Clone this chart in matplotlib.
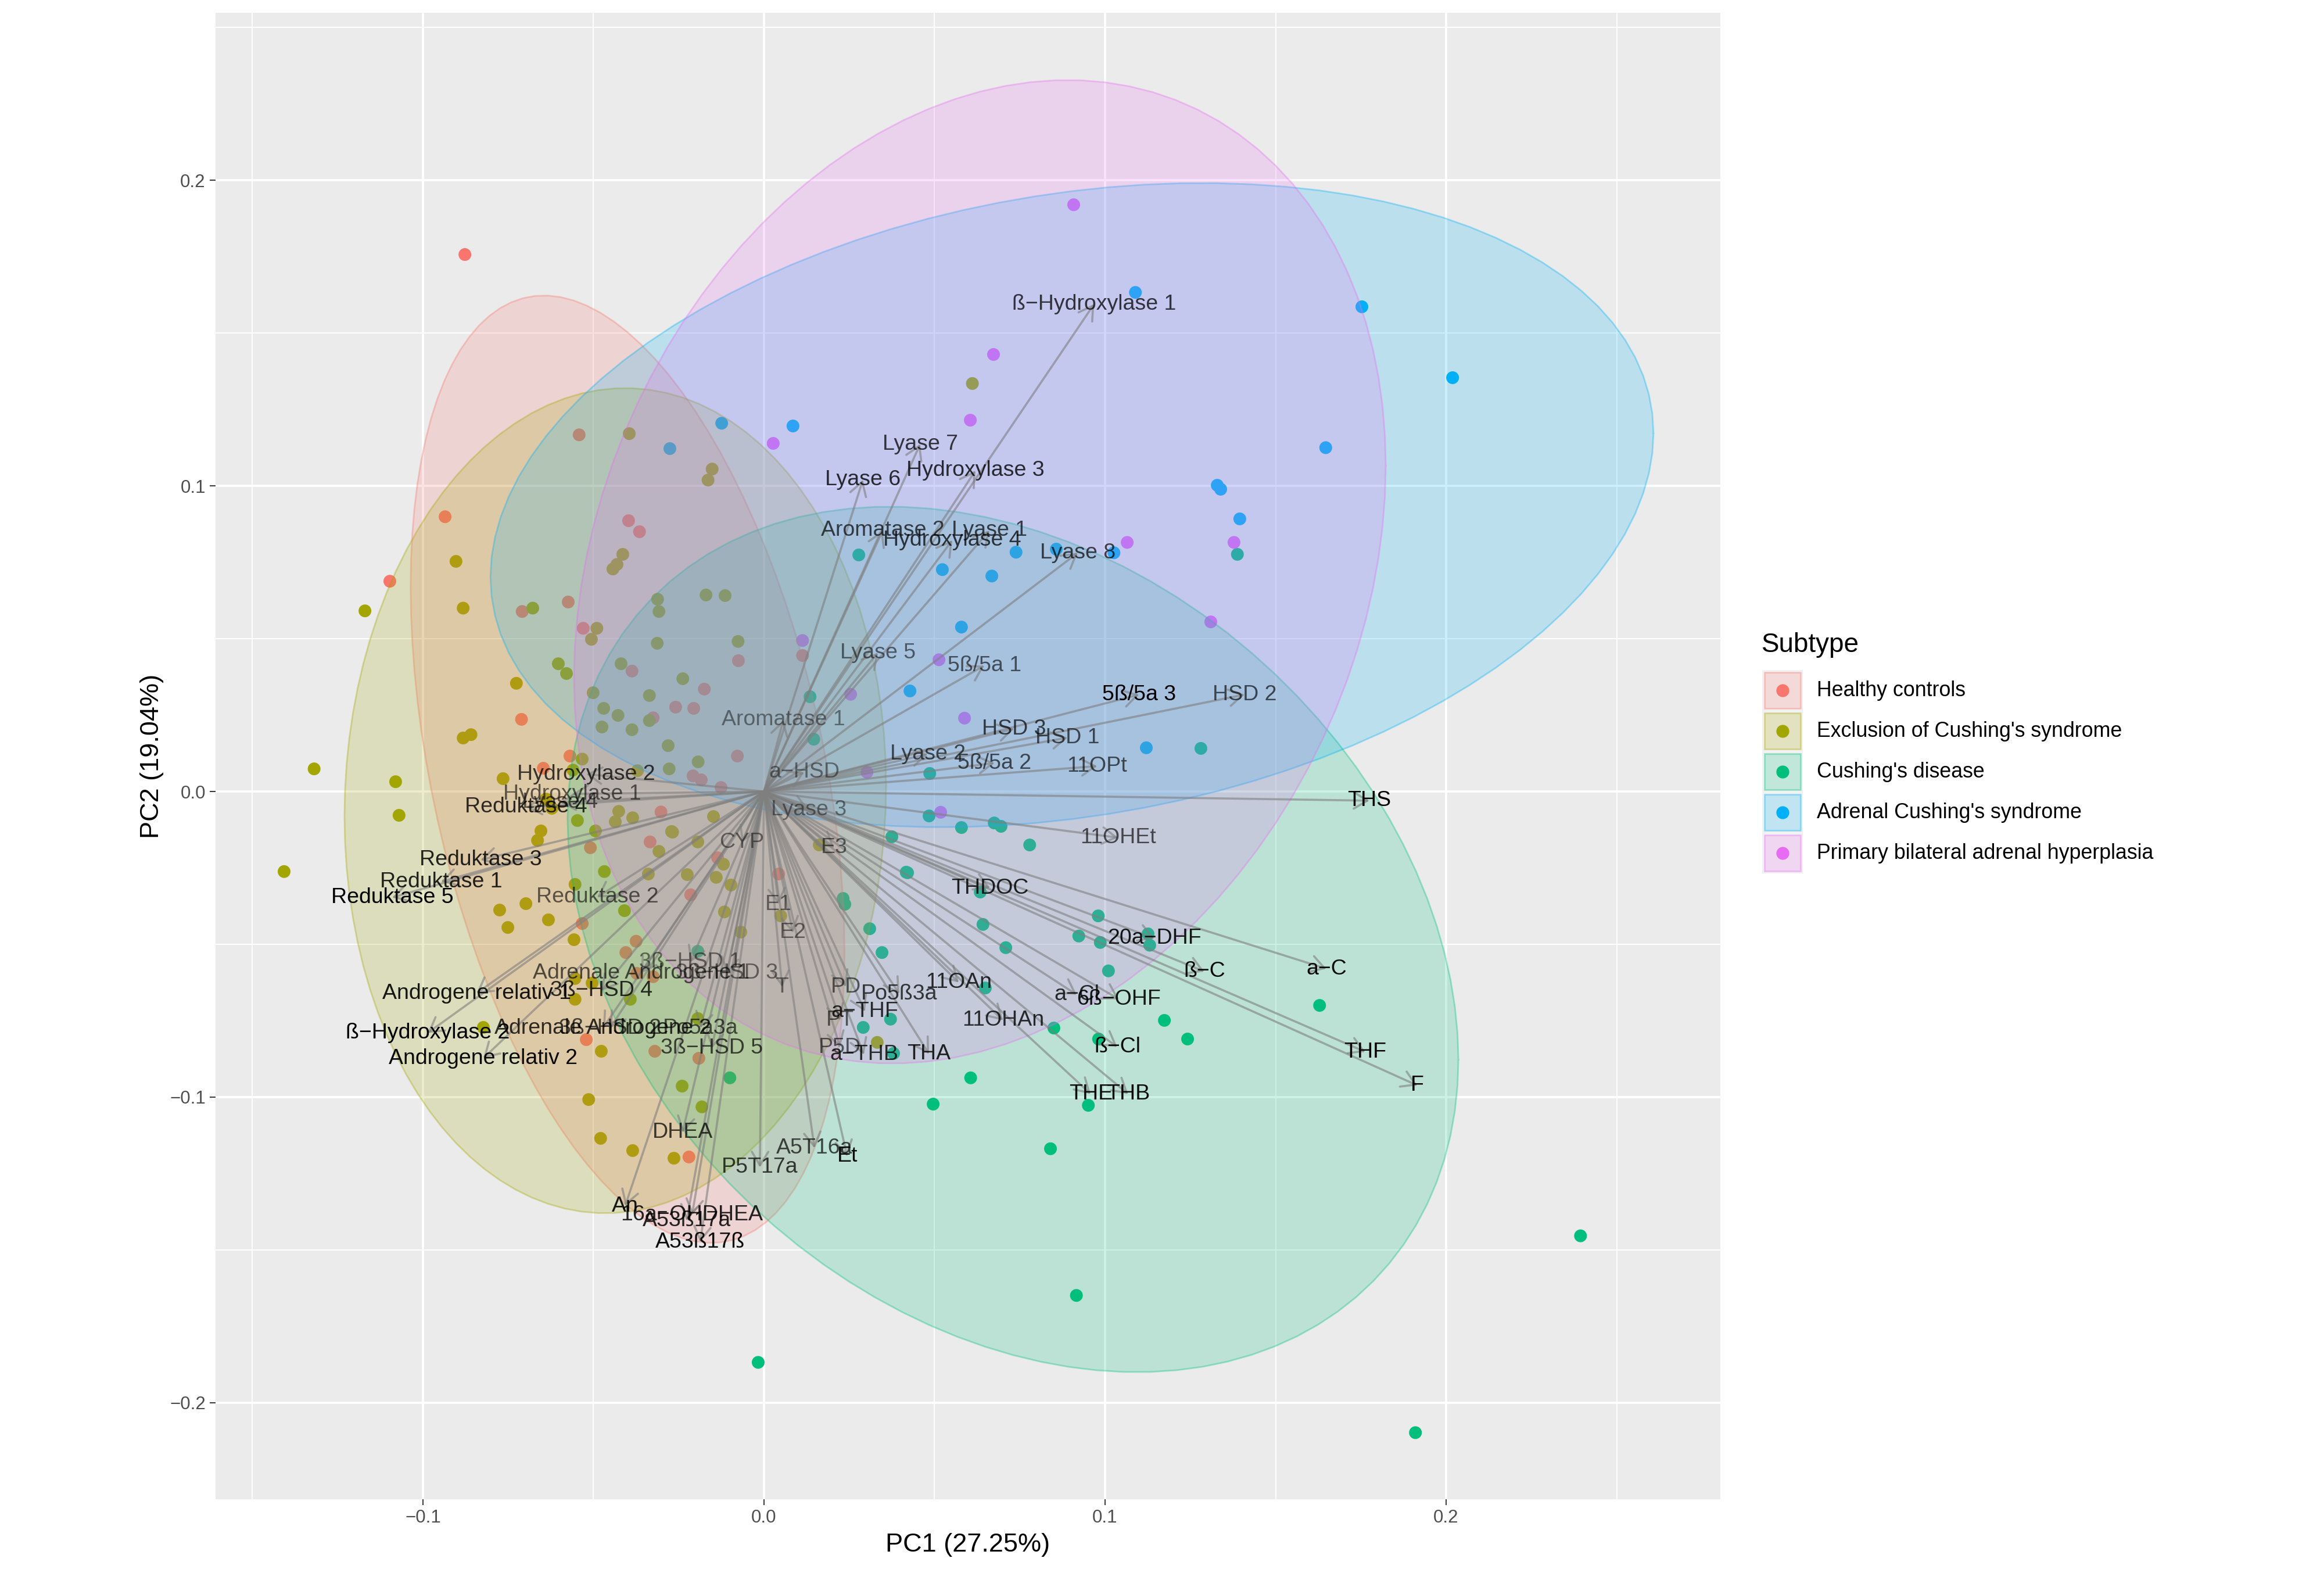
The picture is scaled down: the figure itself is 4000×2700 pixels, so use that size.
import numpy as np
import matplotlib
matplotlib.use("Agg")
import matplotlib.pyplot as plt
from matplotlib.patches import Rectangle
from matplotlib.lines import Line2D

plt.rcParams['font.family'] = ['Liberation Sans', 'DejaVu Sans']

# ---------------- data ----------------
groups = ["Healthy controls", "Exclusion of Cushing's syndrome", "Cushing's disease",
          "Adrenal Cushing's syndrome", "Primary bilateral adrenal hyperplasia"]
colors = ["#F8766D", "#A3A500", "#00BF7D", "#00B0F6", "#E76BF3"]

hc_x = [-0.0877, -0.0542, -0.0935, -0.1097, -0.0397, -0.0365, -0.0709, -0.0574, -0.0530, -0.0075,
        0.0113, -0.0711, -0.0387, -0.0175, -0.0325, -0.0259, -0.0206, -0.0078, -0.0208, -0.0184,
        -0.0126, -0.0647, -0.0569, -0.0302, -0.0509, -0.0334, -0.0136, -0.0215, 0.0043, -0.0533,
        -0.0375, -0.0405, -0.0373, -0.0325, -0.0521, -0.0320, -0.0191, -0.0220]
hc_y = [0.1757, 0.1167, 0.0899, 0.0688, 0.0886, 0.0850, 0.0589, 0.0620, 0.0534, 0.0428,
        0.0445, 0.0236, 0.0394, 0.0335, 0.0241, 0.0276, 0.0272, 0.0116, 0.0051, 0.0038,
        0.0013, 0.0076, 0.0116, -0.0067, -0.0184, -0.0165, -0.0217, -0.0338, -0.0270, -0.0432,
        -0.0490, -0.0527, -0.0595, -0.0606, -0.0812, -0.0850, -0.0873, -0.1196]

ex_x = [-0.0395, -0.0152, -0.0164, 0.0611, -0.0903, -0.1170, -0.0882, -0.0414, -0.0431, -0.0443,
        -0.0678, -0.0490, -0.0506, -0.0312, -0.0308, -0.0170, -0.0114, -0.0313, -0.0076, -0.0726,
        -0.0603, -0.0579, -0.0419, -0.0238, -0.0501, -0.0336, -0.0470, -0.0428, -0.0475, -0.0387,
        -0.0336, -0.0281, -0.0193, -0.0278, -0.1319, -0.1080, -0.1070, -0.1407, -0.0882, -0.0859,
        -0.0765, -0.0533, -0.0560, -0.0371, -0.0654, -0.0664, -0.0639, -0.0622, -0.0547, -0.0426,
        -0.0436, -0.0385, -0.0148, -0.0494, -0.0271, -0.0468, -0.0554, -0.0308, -0.0194, -0.0119,
        -0.0140, -0.0339, -0.0225, -0.0097, -0.0268, -0.0116, 0.0049, -0.0068, 0.0162, 0.0332,
        -0.0775, -0.0698, -0.0751, -0.0632, -0.0557, -0.0409, -0.0554, -0.0504, -0.0554, -0.0392,
        -0.0823, -0.0477, -0.0194, -0.0240, -0.0182, -0.0514, -0.0479, -0.0385, -0.0264]
ex_y = [0.1171, 0.1055, 0.1019, 0.1335, 0.0753, 0.0591, 0.0600, 0.0776, 0.0743, 0.0728,
        0.0600, 0.0534, 0.0498, 0.0629, 0.0589, 0.0643, 0.0641, 0.0485, 0.0491, 0.0354,
        0.0418, 0.0386, 0.0418, 0.0369, 0.0323, 0.0314, 0.0272, 0.0249, 0.0211, 0.0202,
        0.0232, 0.0150, 0.0097, 0.0074, 0.0074, 0.0032, -0.0078, -0.0262, 0.0175, 0.0186,
        0.0042, 0.0106, 0.0070, 0.0068, -0.0129, -0.0160, -0.0025, -0.0055, -0.0095, -0.0065,
        -0.0099, -0.0086, -0.0082, -0.0129, -0.0131, -0.0262, -0.0304, -0.0196, -0.0165, -0.0238,
        -0.0281, -0.0270, -0.0272, -0.0306, -0.0133, -0.0394, -0.0407, -0.0460, -0.0175, -0.0821,
        -0.0388, -0.0367, -0.0445, -0.0420, -0.0485, -0.0390, -0.0612, -0.0627, -0.0680, -0.0680,
        -0.0772, -0.0850, -0.0743, -0.0964, -0.1032, -0.1008, -0.1135, -0.1175, -0.1200]

cd_x = [0.0135, 0.0146, 0.0278, 0.0375, 0.0417, 0.0232, -0.0194, -0.0100, 0.0237, 0.0310,
        0.0346, 0.0291, 0.0371, 0.0380, 0.0484, 0.0579, 0.0675, 0.0695, 0.0779, 0.0421,
        0.0634, 0.0642, 0.0709, 0.0980, 0.0923, 0.0986, 0.1010, 0.0649, 0.0850, 0.0981,
        0.0606, 0.0496, 0.0951, 0.0840, 0.1126, 0.1131, 0.1174, 0.1242, 0.1629, 0.2394,
        0.1910, 0.0916, -0.0017, 0.1388, 0.1281, 0.0486]
cd_y = [0.0310, 0.0171, 0.0774, -0.0148, -0.0264, -0.0350, -0.0523, -0.0937, -0.0369, -0.0449,
        -0.0527, -0.0772, -0.0745, -0.0857, -0.0080, -0.0118, -0.0103, -0.0114, -0.0175, -0.0266,
        -0.0329, -0.0435, -0.0511, -0.0407, -0.0473, -0.0494, -0.0587, -0.0643, -0.0774, -0.0810,
        -0.0937, -0.1023, -0.1027, -0.1169, -0.0466, -0.0503, -0.0749, -0.0810, -0.0700, -0.1454,
        -0.2098, -0.1649, -0.1868, 0.0776, 0.0141, 0.0059]

ac_x = [-0.0276, -0.0124, 0.0085, 0.0428, 0.1089, 0.1753, 0.2019, 0.1647, 0.1329, 0.1339,
        0.1395, 0.1026, 0.0857, 0.0739, 0.0523, 0.0668, 0.0579, 0.1121]
ac_y = [0.1122, 0.1205, 0.1196, 0.0329, 0.1633, 0.1586, 0.1354, 0.1125, 0.1002, 0.0989,
        0.0892, 0.0781, 0.0793, 0.0783, 0.0726, 0.0705, 0.0538, 0.0143]

pb_x = [0.0027, 0.0113, 0.0254, 0.0302, 0.0518, 0.0908, 0.0673, 0.0605, 0.1378, 0.1065,
        0.1310, 0.0513, 0.0588]
pb_y = [0.1139, 0.0494, 0.0318, 0.0063, -0.0068, 0.1920, 0.1430, 0.1215, 0.0815, 0.0815,
        0.0555, 0.0431, 0.0240]

group_x = [hc_x, ex_x, cd_x, ac_x, pb_x]
group_y = [hc_y, ex_y, cd_y, ac_y, pb_y]

# ellipse (centre, spread along x / y, correlation) per group
ell_cx = [-0.0400, -0.0436, 0.0730, 0.0903, 0.0633]
ell_cy = [0.0073, -0.0030, -0.0484, 0.0937, 0.0719]
ell_sx = [0.0636, 0.0794, 0.1306, 0.1705, 0.1190]
ell_sy = [0.1550, 0.1350, 0.1416, 0.1054, 0.1609]
ell_r = [-0.386, 0.037, -0.278, 0.223, 0.216]

var_names = ["ß−Hydroxylase 1", "Lyase 7", "Lyase 6", "Hydroxylase 3", "Aromatase 2", "Lyase 1",
             "Hydroxylase 4", "Lyase 8", "Lyase 5", "5ß/5a 1", "5ß/5a 3", "HSD 2", "HSD 3", "HSD 1",
             "Aromatase 1", "Lyase 2", "5ß/5a 2", "11OPt", "a−HSD", "Lyase 3", "THS", "11OHEt",
             "Hydroxylase 2", "Hydroxylase 1", "Lyase 4", "Reduktase 4", "Reduktase 3", "Reduktase 1",
             "Reduktase 5", "CYP", "Reduktase 2", "3ß−HSD 1", "3ß−HSD 3", "Adrenale Androgene 1",
             "Androgene relativ 1", "3ß−HSD 4", "ß−Hydroxylase 2", "Adrenale Androgene 2", "3ß−HSD 2",
             "Po5a3a", "Androgene relativ 2", "3ß−HSD 5", "DHEA", "A5T16a", "Et", "P5T17a", "An",
             "16a−OHDHEA", "A53ß17a", "A53ß17ß", "T", "E1", "E2", "E3", "PD", "Po5ß3a", "a−THF", "PT",
             "P5D", "a−THB", "THA", "11OAn", "11OHAn", "THDOC", "a−Cl", "6ß−OHF", "20a−DHF", "ß−C",
             "a−C", "THF", "F", "ß−Cl", "THE", "THB"]
var_x = [0.0968, 0.0458, 0.0290, 0.0620, 0.0348, 0.0661, 0.0552, 0.0920, 0.0334, 0.0646,
         0.1100, 0.1409, 0.0733, 0.0890, 0.0057, 0.0480, 0.0676, 0.0977, 0.0118, 0.0131,
         0.1775, 0.1038, -0.0521, -0.0562, -0.0598, -0.0697, -0.0831, -0.0947, -0.1090, -0.0065,
         -0.0489, -0.0216, -0.0109, -0.0361, -0.0843, -0.0477, -0.0986, -0.0472, -0.0451, -0.0187,
         -0.0823, -0.0153, -0.0239, 0.0148, 0.0244, -0.0012, -0.0407, -0.0211, -0.0227, -0.0187,
         0.0053, 0.0043, 0.0085, 0.0206, 0.0240, 0.0397, 0.0296, 0.0223, 0.0223, 0.0293,
         0.0484, 0.0571, 0.0701, 0.0663, 0.0917, 0.1041, 0.1145, 0.1291, 0.1649, 0.1763,
         0.1916, 0.1036, 0.0958, 0.1068]
var_y = [0.1595, 0.1137, 0.1020, 0.1050, 0.0854, 0.0854, 0.0822, 0.0781, 0.0454, 0.0412,
         0.0317, 0.0317, 0.0205, 0.0176, 0.0234, 0.0122, 0.0093, 0.0083, 0.0063, -0.0059,
         -0.0030, -0.0151, 0.0057, -0.0008, -0.0036, -0.0051, -0.0224, -0.0295, -0.0347, -0.0167,
         -0.0346, -0.0559, -0.0595, -0.0595, -0.0660, -0.0652, -0.0790, -0.0774, -0.0774, -0.0774,
         -0.0873, -0.0840, -0.1116, -0.1167, -0.1194, -0.1230, -0.1356, -0.1386, -0.1405, -0.1475,
         -0.0639, -0.0369, -0.0462, -0.0184, -0.0639, -0.0662, -0.0720, -0.0749, -0.0838, -0.0861,
         -0.0859, -0.0625, -0.0749, -0.0316, -0.0665, -0.0680, -0.0481, -0.0589, -0.0580, -0.0852,
         -0.0962, -0.0836, -0.0990, -0.0990]
var_contrib = [0.75, 0.75, 0.8, 0.8, 0.7, 0.7, 0.75, 0.7, 0.55, 0.6,
               1.0, 0.65, 0.7, 0.65, 0.45, 0.65, 0.65, 0.65, 0.45, 0.45,
               1.0, 0.65, 0.75, 0.6, 0.6, 0.8, 0.85, 0.85, 1.0, 0.5,
               0.6, 0.5, 0.5, 0.65, 0.9, 0.8, 1.0, 0.8, 0.7, 0.65,
               0.95, 0.7, 0.75, 0.7, 0.95, 0.75, 0.9, 0.85, 0.85, 0.95,
               0.5, 0.5, 0.5, 0.55, 0.6, 0.75, 0.8, 0.6, 0.6, 0.8,
               0.85, 0.8, 0.8, 0.85, 0.8, 0.9, 0.9, 0.95, 0.95, 1.0,
               1.0, 0.95, 0.95, 0.95]

x_ticks = [-0.1, 0.0, 0.1, 0.2]
y_ticks = [-0.2, -0.1, 0.0, 0.1, 0.2]
x_label = "PC1 (27.25%)"
y_label = "PC2 (19.04%)"
legend_title = "Subtype"

# ---------------- figure ----------------
W, H = 4000, 2700
fig = plt.figure(figsize=(16, 10.8), dpi=250)
ax = fig.add_axes([0.09275, 0.04444, 0.6475, 0.94741])
ax.set_facecolor("#EBEBEB")
ax.set_xlim(-0.1608, 0.2804)
ax.set_ylim(-0.2316, 0.2548)
ax.set_xticks(x_ticks)
ax.set_yticks(y_ticks)
ax.set_xticks([-0.15, -0.05, 0.05, 0.15, 0.25], minor=True)
ax.set_yticks([-0.15, -0.05, 0.05, 0.15, 0.25], minor=True)
ax.set_xticklabels([f"{v:.1f}".replace("-", "\u2212") for v in x_ticks])
ax.set_yticklabels([f"{v:.1f}".replace("-", "\u2212") for v in y_ticks])
ax.grid(which="major", color="white", lw=1.1, zorder=0)
ax.grid(which="minor", color="white", lw=0.55, zorder=0)
ax.set_axisbelow(True)
for s in ax.spines.values():
    s.set_visible(False)
ax.tick_params(which="major", length=2.75, width=0.55, color="#333333",
               labelsize=9, labelcolor="#4D4D4D", pad=2.2)
ax.tick_params(which="minor", length=0)
ax.set_xlabel(x_label, fontsize=13, labelpad=3)
ax.set_ylabel(y_label, fontsize=13, labelpad=3)

# points
for gx, gy, c in zip(group_x, group_y, colors):
    ax.scatter(gx, gy, s=40, color=c, edgecolors="none", zorder=2)

# ellipses
t = np.linspace(0, 2 * np.pi, 101)
for cx, cy, sx, sy, r, c in zip(ell_cx, ell_cy, ell_sx, ell_sy, ell_r, colors):
    cov = np.array([[sx * sx, r * sx * sy], [r * sx * sy, sy * sy]])
    L = np.linalg.cholesky(cov)
    pts = (L @ np.vstack([np.cos(t), np.sin(t)])).T + np.array([cx, cy])
    ax.fill(pts[:, 0], pts[:, 1], facecolor=c, alpha=0.2, edgecolor="none", zorder=3)
    ax.plot(pts[:, 0], pts[:, 1], color=c, alpha=0.35, lw=0.8, zorder=3)

# arrows and labels
for name, vx, vy, a in zip(var_names, var_x, var_y, var_contrib):
    ax.annotate("", xy=(vx, vy), xytext=(0, 0),
                arrowprops=dict(arrowstyle="->,head_length=0.56,head_width=0.34",
                                color="#7F7F7F", alpha=0.6, lw=1.05,
                                shrinkA=0, shrinkB=0, mutation_scale=12),
                zorder=4)
    ax.text(vx, vy, name, ha="center", va="center", fontsize=10.8,
            color="black", alpha=a, zorder=5)

# legend (drawn in pixel coordinates of the figure)
lax = fig.add_axes([0, 0, 1, 1], zorder=10)
lax.set_xlim(0, W)
lax.set_ylim(H, 0)
lax.axis("off")
key_x0, key_y0, key_size = 3033, 1153, 70
lax.text(3032, 1122, legend_title, fontsize=13.2, ha="left", va="baseline", color="black")
for i, (g, c) in enumerate(zip(groups, colors)):
    y0 = key_y0 + i * key_size
    lax.add_patch(Rectangle((key_x0, y0), key_size, key_size, facecolor="#F2F2F2",
                            edgecolor="none"))
    lax.add_patch(Rectangle((key_x0 + 4, y0 + 4), key_size - 8, key_size - 8,
                            facecolor=matplotlib.colors.to_rgba(c, 0.2),
                            edgecolor=matplotlib.colors.to_rgba(c, 0.35), lw=0.8))
    lax.add_line(Line2D([key_x0 + key_size / 2], [y0 + key_size / 2], marker="o",
                        linestyle="none", markersize=6.4, markerfacecolor=c,
                        markeredgecolor="none"))
    lax.text(3127, y0 + key_size / 2, g, fontsize=10.3, ha="left", va="center",
             color="black")

fig.savefig("out.png", dpi=250)
